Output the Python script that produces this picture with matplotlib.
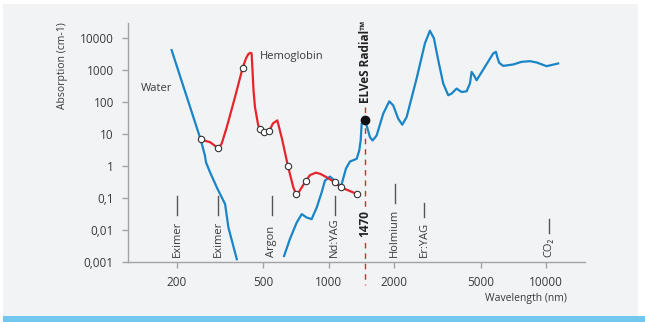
import matplotlib.pyplot as plt
import matplotlib.transforms as mtransforms
from matplotlib.patches import Rectangle

# absorption spectra (wavelength nm, absorption cm-1)
water_uv_wl = [189, 257, 269, 272, 284, 305, 333, 345, 377]
water_uv_abs = [4200, 6.76, 2.13, 1.31, 0.636, 0.215, 0.0648, 0.0119, 0.00122]

water_ir_wl = [622, 662, 711, 750, 790, 833, 879, 926, 959, 1011, 1078, 1136,
               1198, 1250, 1342, 1379, 1400, 1415, 1465, 1545, 1589, 1658, 1778,
               1895, 1976, 2084, 2175, 2278, 2532, 2765, 2915, 3042, 3184, 3357,
               3539, 3668, 3868, 4078, 4300, 4454, 4534, 4646, 4780, 5220, 5700,
               5865, 5946, 6073, 6338, 7044, 7697, 8405, 9024, 10030, 11340]
water_ir_abs = [0.00154, 0.00527, 0.0171, 0.0314, 0.0246, 0.0219, 0.0506, 0.150,
                0.349, 0.466, 0.325, 0.226, 0.83, 1.38, 1.68, 3.05, 6.29, 21.0,
                28.0, 7.98, 6.29, 9.02, 43.3, 105, 78.9, 30.2, 19.6, 33.9, 543,
                6819, 16960, 9788, 2039, 379, 163, 184, 264, 206, 217, 379, 876,
                690, 480, 1257, 3310, 3716, 2589, 1678, 1351, 1494, 1804, 1897,
                1727, 1322, 1607]

hb_wl = [257, 284, 310, 321, 339, 370, 401, 416, 426, 434, 441, 446, 450, 457,
         473, 484, 504, 532, 553, 579, 608, 648, 686, 706, 729, 782, 818, 872,
         919, 977, 1066, 1136, 1350]
hb_abs = [6.76, 5.56, 3.60, 4.95, 16.4, 144, 1169, 2357, 3147, 3450, 3310, 780,
          233, 69.8, 18.6, 14.4, 11.2, 12.7, 21.5, 26.7, 7.26, 0.995, 0.215,
          0.133, 0.158, 0.337, 0.519, 0.622, 0.558, 0.443, 0.309, 0.215, 0.133]
hb_marked = [257, 310, 401, 484, 504, 532, 648, 706, 782, 1066, 1136, 1350]

elves_wl = 1470
elves_abs = 28.0

laser_names = ['Eximer', 'Eximer', 'Argon', 'Nd:YAG', 'Holmium', 'Er:YAG', 'CO₂']
laser_wl = [200, 310, 545, 1064, 2010, 2740, 10280]

x_ticks = [200, 500, 1000, 2000, 5000, 10000]
y_ticks = [0.001, 0.01, 0.1, 1, 10, 100, 1000, 10000]
y_ticklabels = ['0,001', '0,01', '0,1', '1', '10', '100', '1000', '10000']

plt.rcParams['font.family'] = ['Open Sans', 'DejaVu Sans']

bg = '#f1f3f5'
txt = '#3a3a3a'
axis_col = '#a3a3a3'
blue = '#1a85c6'
red = '#e4252b'

fig = plt.figure(figsize=(6.45, 3.22), dpi=100)
fig.patches.append(Rectangle((3 / 645, 6 / 322), 635 / 645, 312 / 322,
                             transform=fig.transFigure, facecolor=bg, edgecolor='none', zorder=-2))
fig.patches.append(Rectangle((3 / 645, 0), 642 / 645, 6 / 322,
                             transform=fig.transFigure, facecolor='#71c7ee', edgecolor='none', zorder=-2))

ax = fig.add_axes([127.7 / 645, 60 / 322, 457.3 / 645, 239 / 322])
ax.set_facecolor('none')
ax.set_xscale('log')
ax.set_yscale('log')
ax.set_xlim(118.7, 15070)
ax.set_ylim(0.001, 29580)

ax.plot(water_uv_wl, water_uv_abs, color=blue, lw=1.6, zorder=2)
ax.plot(water_ir_wl, water_ir_abs, color=blue, lw=1.6, zorder=2)
ax.plot(hb_wl, hb_abs, color=red, lw=1.6, zorder=3)
mark_idx = [hb_wl.index(w) for w in hb_marked]
ax.plot([hb_wl[i] for i in mark_idx], [hb_abs[i] for i in mark_idx], ls='none',
        marker='o', ms=4.6, mfc='white', mec='#333333', mew=0.8, zorder=4)

trans = mtransforms.blended_transform_factory(ax.transData, ax.transAxes)
ax.plot([elves_wl, elves_wl], [0.6485, -0.096], transform=trans, clip_on=False,
        color=red, lw=1, dashes=(4, 3.5), zorder=1)
ax.plot([elves_wl], [elves_abs], marker='o', ms=6, color='#111111', zorder=5)
ax.text(elves_wl, 0.837, 'ELVeS Radial™', transform=trans, rotation=90,
        ha='center', va='center', fontsize=8.5, fontweight='bold', color='#222222')
ax.text(elves_wl, 0.161, '1470', transform=trans, rotation=90, ha='center',
        va='center', fontsize=8.5, fontweight='bold', color='#222222',
        bbox=dict(facecolor=bg, edgecolor='none', pad=1.5), zorder=6)

# short marker lines above the laser labels (axes fraction spans)
line_spans = [(0.197, 0.276), (0.197, 0.276), (0.197, 0.276), (0.197, 0.276),
              (0.247, 0.326), (0.188, 0.247), (0.121, 0.180)]
for name, wl, (y0, y1) in zip(laser_names, laser_wl, line_spans):
    ax.text(wl, 0.021, name, transform=trans, rotation=90, ha='center',
            va='bottom', fontsize=8, color=txt)
    ax.plot([wl, wl], [y0, y1], transform=trans, color='#555555', lw=1)

ax.text(141 / 645, 1 - 88 / 322, 'Water', transform=fig.transFigure,
        fontsize=8, color=txt, va='center')
ax.text(260 / 645, 1 - 57 / 322, 'Hemoglobin', transform=fig.transFigure,
        fontsize=8, color=txt, va='center')

fig.text(62 / 645, 1 - 66 / 322, 'Absorption (cm-1)', rotation=90, ha='center',
         va='center', fontsize=7.5, color=txt)
fig.text(526 / 645, 1 - 298 / 322, 'Wavelength (nm)', ha='center', va='center',
         fontsize=7.5, color=txt)

ax.set_xticks(x_ticks)
ax.set_xticklabels([str(t) for t in x_ticks])
ax.set_yticks(y_ticks)
ax.set_yticklabels(y_ticklabels)
ax.minorticks_off()
ax.tick_params(colors=axis_col, labelcolor=txt, labelsize=8.5, length=4, width=1)
ax.tick_params(axis='y', pad=6)
ax.tick_params(axis='x', pad=6)
for side in ['top', 'right']:
    ax.spines[side].set_visible(False)
for side in ['left', 'bottom']:
    ax.spines[side].set_color(axis_col)
    ax.spines[side].set_linewidth(1)

fig.savefig('out.png', dpi=100, facecolor='white')
